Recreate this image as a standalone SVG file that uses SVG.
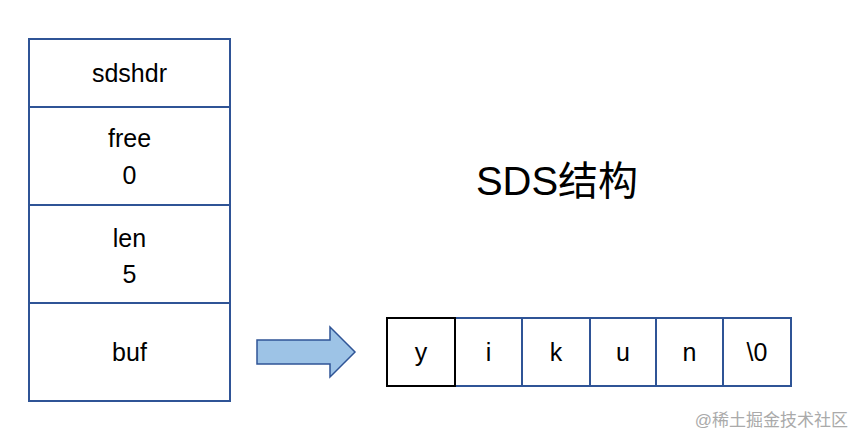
<svg xmlns="http://www.w3.org/2000/svg" width="864" height="448" viewBox="0 0 864 448">
<style>
.t{font-family:"Liberation Sans","Noto Sans CJK SC",sans-serif;font-size:25px;fill:#000;text-anchor:middle}
.b{fill:#fff;stroke:#2F5496;stroke-width:2}
</style>
<rect width="864" height="448" fill="#fff"/>
<g id="sdshdr">
<rect class="b" x="29" y="39" width="201" height="68"/>
<text class="t" x="129.5" y="82">sdshdr</text>
</g>
<g id="free">
<rect class="b" x="29" y="107" width="201" height="98"/>
<text class="t" x="129.5" y="147">free</text>
<text class="t" x="129.5" y="184">0</text>
</g>
<g id="len">
<rect class="b" x="29" y="205" width="201" height="98"/>
<text class="t" x="129.5" y="247">len</text>
<text class="t" x="129.5" y="283">5</text>
</g>
<g id="buf">
<rect class="b" x="29" y="303" width="201" height="98"/>
<text class="t" x="129.5" y="361">buf</text>
</g>
<g id="connectors">
<path d="M257,340 L330,340 L330,327 L355,352 L330,377 L330,364 L257,364 Z" fill="#9DC3E6" stroke="#2F5496" stroke-width="1.5"/>
</g>
<g id="title">
<text x="557" y="195" style="font-family:'Liberation Sans','Noto Sans CJK SC',sans-serif;font-size:40px;text-anchor:middle">SDS结构</text>
</g>
<g id="cells">
<rect class="b" x="455" y="318" width="67" height="68"/>
<rect class="b" x="522" y="318" width="68" height="68"/>
<rect class="b" x="590" y="318" width="66" height="68"/>
<rect class="b" x="656" y="318" width="67" height="68"/>
<rect class="b" x="723" y="318" width="68" height="68"/>
<rect x="387" y="318" width="68" height="68" fill="#fff" stroke="#000" stroke-width="2"/>
<text class="t" x="421" y="361">y</text>
<text class="t" x="488.5" y="361">i</text>
<text class="t" x="556" y="361">k</text>
<text class="t" x="623" y="361">u</text>
<text class="t" x="689.5" y="361">n</text>
<text class="t" x="757" y="361">\0</text>
</g>
<text x="848" y="426" style="font-family:'Liberation Sans','Noto Sans CJK SC',sans-serif;font-size:17px;fill:#aaa;text-anchor:end">@稀土掘金技术社区</text>
</svg>
